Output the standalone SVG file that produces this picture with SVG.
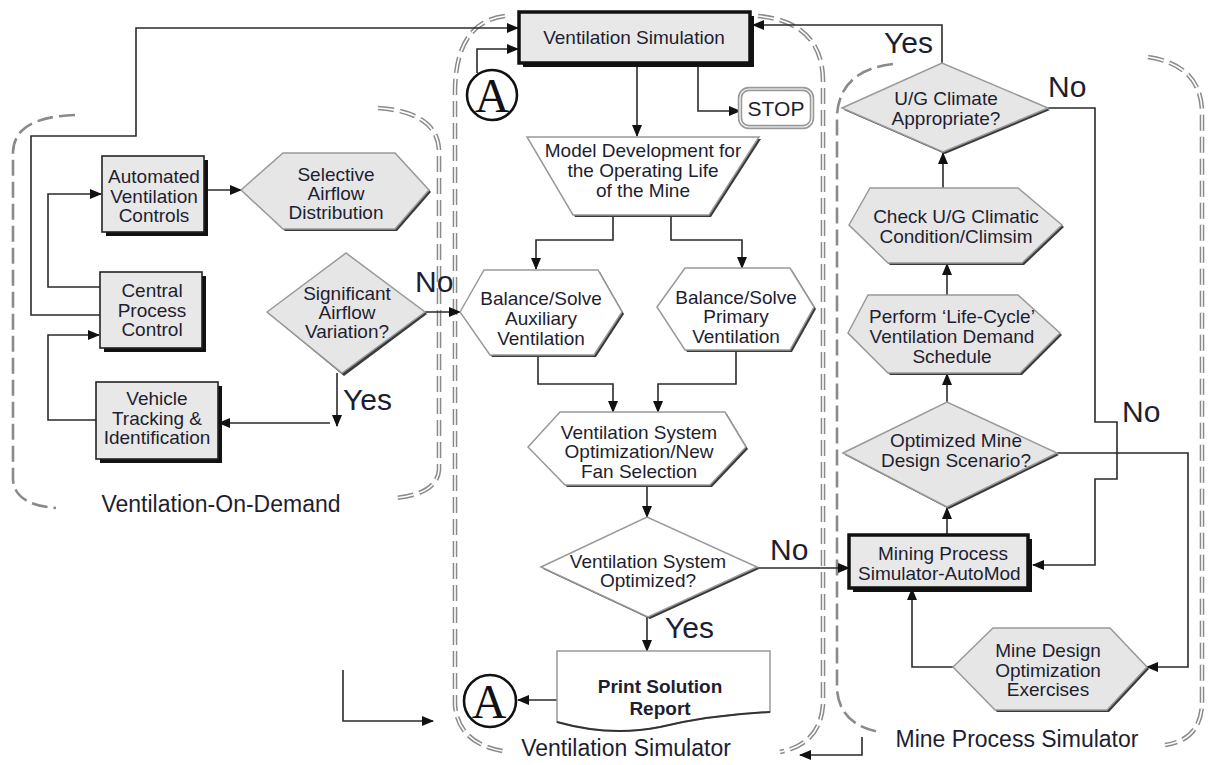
<svg xmlns="http://www.w3.org/2000/svg" width="1209" height="765" viewBox="0 0 1209 765">
<defs>
<style>
text{font-family:"Liberation Sans",Arial,sans-serif;fill:#1e1e30}
.t{font-size:19px;text-anchor:middle}
.tb{font-size:19px;text-anchor:middle;font-weight:bold}
.big{font-size:30px}
.reg{font-size:23px;text-anchor:middle}
.ln{fill:none;stroke:#2a2a2a;stroke-width:1.6}
.arr{marker-end:url(#ah)}
.box{fill:#e8e8e8;stroke:#222;stroke-width:1.6}
.boxk{fill:#e8e8e8;stroke:#111;stroke-width:3.5}
.sh{fill:#111}
.gs{fill:#e6e6e6;stroke:#999;stroke-width:1.5}
.ws{fill:#fff;stroke:#999;stroke-width:1.5}
.psh{fill:#3a3a3a}
.d1{fill:none;stroke:#8a8a8a;stroke-width:2.6;stroke-dasharray:16 6}
.d2o{fill:none;stroke:#8a8a8a;stroke-width:4.6;stroke-dasharray:16 6}
.d2i{fill:none;stroke:#fff;stroke-width:1.6;stroke-dasharray:16 6}
.circ{fill:#fff;stroke:#111;stroke-width:2.6}
.A{font-family:"Liberation Serif","Times New Roman",serif;font-size:48px;text-anchor:middle;fill:#111}
</style>
<marker id="ah" markerWidth="12" markerHeight="10" refX="11" refY="5" orient="auto" markerUnits="userSpaceOnUse">
<path d="M0,0 L12,5 L0,10 Z" fill="#111"/>
</marker>
</defs>
<rect width="1209" height="765" fill="#fff"/>

<!-- Region borders -->
<g id="regions">
<path class="d1" d="M75,115 Q14,117 13,152 L13,480 Q15,505 56,508"/>
<path class="d2o" d="M378,108 Q437,112 439,150 L439,470 Q437,494 395,498"/>
<path class="d2i" d="M378,108 Q437,112 439,150 L439,470 Q437,494 395,498"/>
<path class="d2o" d="M505,16 Q456,22 455,90 L455,705 Q458,745 508,752"/>
<path class="d2i" d="M505,16 Q456,22 455,90 L455,705 Q458,745 508,752"/>
<path class="d2o" d="M758,16 Q822,22 823,80 L823,705 Q820,744 780,752"/>
<path class="d2i" d="M758,16 Q822,22 823,80 L823,705 Q820,744 780,752"/>
<path class="d1" d="M893,64 Q840,70 837,115 L837,690 Q840,725 880,732"/>
<path class="d2o" d="M1148,57 Q1200,65 1202,110 L1202,705 Q1200,740 1165,745"/>
<path class="d2i" d="M1148,57 Q1200,65 1202,110 L1202,705 Q1200,740 1165,745"/>
<text class="reg" x="221" y="512">Ventilation-On-Demand</text>
<text class="reg" x="626" y="756">Ventilation Simulator</text>
<text class="reg" x="1017" y="747">Mine Process Simulator</text>
</g>

<!-- Connectors -->
<g id="connectors">
<path class="ln arr" d="M100,315 L31,315 L31,136 L136,136 L136,28 L518,28"/>
<path class="ln arr" d="M100,287 L48,287 L48,194 L101,194"/>
<path class="ln arr" d="M96,420 L48,420 L48,335 L99,335"/>
<path class="ln arr" d="M208,190 L241,190"/>
<path class="ln arr" d="M337,373 L337,426"/>
<path class="ln arr" d="M330,423 L219,423"/>
<path class="ln arr" d="M425,312 L460,312"/>
<path class="ln arr" d="M477,73 L477,49 L518,49"/>
<path class="ln arr" d="M942,63 L942,25 L753,25"/>
<path class="ln arr" d="M698,65 L698,111 L740,111"/>
<path class="ln arr" d="M637,65 L637,136"/>
<path class="ln arr" d="M613,216 L613,240 L536,240 L536,269"/>
<path class="ln arr" d="M671,216 L671,240 L742,240 L742,268"/>
<path class="ln arr" d="M538,357 L538,384 L613,384 L613,412"/>
<path class="ln arr" d="M736,352 L736,384 L658,384 L658,412"/>
<path class="ln arr" d="M647,487 L647,517"/>
<path class="ln arr" d="M757,568 L849,568"/>
<path class="ln arr" d="M647,617 L647,651"/>
<path class="ln arr" d="M557,700 L518,700"/>
<path class="ln arr" d="M343,670 L343,721 L433,721"/>
<path class="ln arr" d="M862,737 L862,755 L800,755"/>
<path class="ln arr" d="M1048,108 L1095,108 L1095,422 L1117,422 L1117,479 L1095,479 L1095,565 L1033,565"/>
<path class="ln arr" d="M1057,453 L1188,453 L1188,667 L1147,667"/>
<path class="ln arr" d="M947,402 L947,374"/>
<path class="ln arr" d="M947,295 L947,264"/>
<path class="ln arr" d="M943,188 L943,153"/>
<path class="ln arr" d="M947,535 L947,508"/>
<path class="ln arr" d="M953,667 L912,667 L912,589"/>
<text class="big" x="415" y="292">No</text>
<text class="big" x="343" y="410">Yes</text>
<text class="big" x="770" y="560">No</text>
<text class="big" x="665" y="638">Yes</text>
<text class="big" x="884" y="53">Yes</text>
<text class="big" x="1048" y="97">No</text>
<text class="big" x="1122" y="422">No</text>
</g>

<!-- Ventilation-On-Demand nodes -->
<g id="n-avc">
<rect class="sh" x="106" y="160" width="102" height="76"/>
<rect class="box" x="102" y="156" width="102" height="76"/>
<text class="t" x="154" y="183">Automated</text>
<text class="t" x="154" y="203">Ventilation</text>
<text class="t" x="154" y="222">Controls</text>
</g>
<g id="n-sad">
<polygon class="psh" points="243,192 285,155 397,155 431,192 397,231 285,231"/>
<polygon class="gs" points="241,190 283,153 395,153 429,190 395,229 283,229"/>
<text class="t" x="336" y="181">Selective</text>
<text class="t" x="336" y="200">Airflow</text>
<text class="t" x="336" y="219">Distribution</text>
</g>
<g id="n-cpc">
<rect class="sh" x="104" y="276" width="102" height="76"/>
<rect class="box" x="100" y="272" width="102" height="76"/>
<text class="t" x="152" y="297">Central</text>
<text class="t" x="152" y="317">Process</text>
<text class="t" x="152" y="336">Control</text>
</g>
<g id="n-vti">
<rect class="sh" x="100" y="386" width="122" height="77"/>
<rect class="box" x="96" y="382" width="122" height="77"/>
<text class="t" x="157" y="405">Vehicle</text>
<text class="t" x="157" y="425">Tracking &amp;</text>
<text class="t" x="157" y="444">Identification</text>
</g>
<g id="n-sav">
<polygon class="psh" points="269,314 348,255 427,314 344,376"/>
<polygon class="gs" points="267,312 346,253 425,312 342,373"/>
<text class="t" x="347" y="300">Significant</text>
<text class="t" x="347" y="319">Airflow</text>
<text class="t" x="347" y="338">Variation?</text>
</g>

<!-- Ventilation Simulator nodes -->
<g id="n-vs">
<rect class="sh" x="523" y="16" width="231" height="51"/>
<rect class="boxk" x="519" y="12" width="231" height="51"/>
<text class="t" x="634" y="44">Ventilation Simulation</text>
</g>
<g id="n-a1">
<circle class="circ" cx="492" cy="95" r="25"/>
<text class="A" x="492" y="112">A</text>
</g>
<g id="n-stop">
<rect x="740" y="89" width="72" height="38" rx="9" fill="#fff" stroke="#999" stroke-width="4.5"/>
<rect x="740" y="89" width="72" height="38" rx="9" fill="none" stroke="#fff" stroke-width="1.2"/>
<text x="776" y="116" style="font-size:21px;text-anchor:middle">STOP</text>
</g>
<g id="n-model">
<polygon class="psh" points="529,139 761,139 711,217 575,217"/>
<polygon class="ws" points="527,137 759,137 709,215 573,215"/>
<text class="t" x="643" y="157">Model Development for</text>
<text class="t" x="643" y="177">the Operating Life</text>
<text class="t" x="643" y="197">of the Mine</text>
</g>
<g id="n-aux">
<polygon class="psh" points="462,314 486,272 600,272 624,314 596,357 492,357"/>
<polygon class="ws" points="460,312 484,270 598,270 622,312 594,355 490,355"/>
<text class="t" x="541" y="305">Balance/Solve</text>
<text class="t" x="541" y="325">Auxiliary</text>
<text class="t" x="541" y="345">Ventilation</text>
</g>
<g id="n-pri">
<polygon class="psh" points="659,309 687,270 792,270 816,309 792,352 687,352"/>
<polygon class="ws" points="657,307 685,268 790,268 814,307 790,350 685,350"/>
<text class="t" x="736" y="304">Balance/Solve</text>
<text class="t" x="736" y="323">Primary</text>
<text class="t" x="736" y="343">Ventilation</text>
</g>
<g id="n-opt">
<polygon class="psh" points="530,449 562,414 727,414 748,449 712,487 567,487"/>
<polygon class="ws" points="528,447 560,412 725,412 746,447 710,485 565,485"/>
<text class="t" x="639" y="439">Ventilation System</text>
<text class="t" x="639" y="458">Optimization/New</text>
<text class="t" x="639" y="478">Fan Selection</text>
</g>
<g id="n-vso">
<polygon class="psh" points="543,569 649,519 759,569 650,619"/>
<polygon class="ws" points="541,567 647,517 757,567 648,617"/>
<text class="t" x="648" y="568">Ventilation System</text>
<text class="t" x="648" y="587">Optimized?</text>
</g>
<g id="n-print">
<path d="M557,651 L770,651 L770,712 Q710,715 660,727 Q610,737 557,722 Z" fill="#fff" stroke="#999" stroke-width="1.5"/>
<path d="M557,722 Q610,737 660,727 Q710,715 770,712" fill="none" stroke="#333" stroke-width="2"/>
<text class="tb" x="660" y="693">Print Solution</text>
<text class="tb" x="660" y="715">Report</text>
</g>
<g id="n-a2">
<circle class="circ" cx="490" cy="701" r="26" stroke-width="3.2"/>
<text class="A" x="489" y="718">A</text>
</g>

<!-- Mine Process Simulator nodes -->
<g id="n-ugc">
<polygon class="psh" points="844,110 944,65 1050,110 945,154"/>
<polygon class="gs" points="842,108 942,63 1048,108 943,152"/>
<text class="t" x="946" y="105">U/G Climate</text>
<text class="t" x="946" y="125">Appropriate?</text>
</g>
<g id="n-check">
<polygon class="psh" points="851,227 872,190 1020,190 1064,227 1024,265 890,265"/>
<polygon class="gs" points="849,225 870,188 1018,188 1062,225 1022,263 888,263"/>
<text class="t" x="956" y="223">Check U/G Climatic</text>
<text class="t" x="956" y="243">Condition/Climsim</text>
</g>
<g id="n-perform">
<polygon class="psh" points="850,335 870,297 1020,297 1062,335 1022,375 890,375"/>
<polygon class="gs" points="848,333 868,295 1018,295 1060,333 1020,373 888,373"/>
<text class="t" x="952" y="323">Perform ‘Life-Cycle’</text>
<text class="t" x="952" y="343">Ventilation Demand</text>
<text class="t" x="952" y="363">Schedule</text>
</g>
<g id="n-omd">
<polygon class="psh" points="845,455 949,404 1059,455 949,509"/>
<polygon class="gs" points="843,453 947,402 1057,453 947,507"/>
<text class="t" x="956" y="447">Optimized Mine</text>
<text class="t" x="956" y="467">Design Scenario?</text>
</g>
<g id="n-mps">
<rect class="sh" x="853" y="539" width="179" height="53"/>
<rect class="boxk" x="849" y="535" width="179" height="53"/>
<text class="t" x="943" y="560">Mining Process</text>
<text x="858" y="580" style="font-size:19px">Simulator-AutoMod</text>
</g>
<g id="n-mdo">
<polygon class="psh" points="955,669 995,630 1112,630 1149,669 1109,712 997,712"/>
<polygon class="gs" points="953,667 993,628 1110,628 1147,667 1107,710 995,710"/>
<text class="t" x="1048" y="657">Mine Design</text>
<text class="t" x="1048" y="677">Optimization</text>
<text class="t" x="1048" y="696">Exercises</text>
</g>
</svg>
